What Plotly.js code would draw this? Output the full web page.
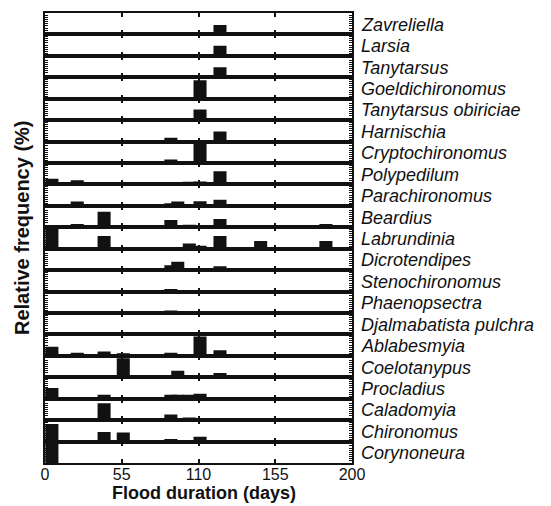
<!DOCTYPE html>
<html>
<head>
<meta charset="utf-8">
<script src="https://cdn.plot.ly/plotly-3.0.1.min.js"></script>
<style>
  html, body { margin: 0; padding: 0; background: #ffffff; }
  #chart { width: 551px; height: 506px; }
</style>
</head>
<body>
<div id="chart"></div>
<script>
// Positions of the sampled flood durations along the drawn axis
// (the axis is drawn with evenly spaced ticks labelled 0, 55, 110, 155, 200)
const samplePos = [4.5, 21, 38.5, 51, 82, 86.5, 94, 101, 114, 140.5, 183];
const tickVals = [0, 50, 100, 150, 200];
const tickText = ['0', '55', '110', '155', '200'];

const taxa = [
  'Zavreliella', 'Larsia', 'Tanytarsus', 'Goeldichironomus', 'Tanytarsus obiriciae',
  'Harnischia', 'Cryptochironomus', 'Polypedilum', 'Parachironomus', 'Beardius',
  'Labrundinia', 'Dicrotendipes', 'Stenochironomus', 'Phaenopsectra', 'Djalmabatista pulchra',
  'Ablabesmyia', 'Coelotanypus', 'Procladius', 'Caladomyia', 'Chironomus', 'Corynoneura'
];

// Relative frequency (%) at each sampled position, one array per taxon
const zavreliella         = [0, 0, 0, 0, 0, 0, 0, 0, 44, 0, 0];
const larsia              = [0, 0, 0, 0, 0, 0, 0, 0, 47, 0, 0];
const tanytarsus          = [0, 0, 0, 0, 0, 0, 0, 0, 47, 0, 0];
const goeldichironomus    = [0, 0, 0, 0, 0, 0, 0, 86, 0, 0, 0];
const tanytarsusObiriciae = [0, 0, 0, 0, 0, 0, 0, 50, 0, 0, 0];
const harnischia          = [0, 0, 0, 0, 18, 0, 0, 0, 47, 0, 0];
const cryptochironomus    = [0, 0, 0, 0, 16, 0, 0, 91, 0, 0, 0];
const polypedilum         = [27, 19, 9, 10, 9, 0, 13, 14, 62, 7, 0];
const parachironomus      = [0, 20, 0, 0, 12, 20, 9, 21, 28, 0, 0];
const beardius            = [0, 15, 72, 0, 34, 0, 12, 10, 39, 0, 15];
const labrundinia         = [100, 0, 59, 0, 0, 0, 24, 14, 59, 36, 36];
const dicrotendipes       = [0, 0, 9, 0, 23, 39, 0, 9, 18, 0, 0];
const stenochironomus     = [0, 0, 0, 0, 12, 0, 0, 0, 0, 0, 0];
const phaenopsectra       = [0, 0, 0, 0, 12, 0, 0, 0, 0, 0, 0];
const djalmabatista       = [0, 0, 0, 0, 11, 0, 0, 0, 0, 0, 0];
const ablabesmyia         = [42, 15, 20, 12, 15, 0, 9, 90, 26, 0, 0];
const coelotanypus        = [0, 0, 0, 89, 8, 31, 0, 0, 20, 0, 0];
const procladius          = [50, 0, 19, 0, 19, 19, 19, 23, 0, 0, 0];
const caladomyia          = [0, 0, 79, 0, 26, 0, 12, 0, 8, 0, 0];
const chironomus          = [82, 0, 45, 42, 12, 0, 0, 23, 0, 0, 0];
const corynoneura         = [100, 0, 0, 0, 0, 0, 0, 0, 0, 0, 0];

const rows = [
  zavreliella, larsia, tanytarsus, goeldichironomus, tanytarsusObiriciae,
  harnischia, cryptochironomus, polypedilum, parachironomus, beardius,
  labrundinia, dicrotendipes, stenochironomus, phaenopsectra, djalmabatista,
  ablabesmyia, coelotanypus, procladius, caladomyia, chironomus, corynoneura
];

const INK = '#111111';
const n = taxa.length;
const data = [];
const layout = {
  width: 551,
  height: 506,
  margin: { l: 45, r: 199, t: 13, b: 43, pad: 0 },
  paper_bgcolor: '#ffffff',
  plot_bgcolor: '#ffffff',
  showlegend: false,
  barmode: 'overlay',
  font: { family: 'Liberation Sans, Arial, sans-serif', color: INK },
  annotations: []
};

for (let i = 0; i < n; i++) {
  const suf = i === 0 ? '' : String(i + 1);
  data.push({
    type: 'bar',
    x: samplePos,
    y: rows[i],
    xaxis: 'x' + suf,
    yaxis: 'y' + suf,
    width: 8.5,
    marker: { color: INK, line: { width: 0 } },
    name: taxa[i],
    hovertemplate: taxa[i] + ': %{y}%<extra></extra>'
  });
  layout['xaxis' + suf] = {
    domain: [0, 1],
    range: [0, 200],
    anchor: 'y' + suf,
    tickmode: 'array',
    tickvals: tickVals,
    ticktext: tickText,
    ticks: 'inside',
    ticklen: 4,
    tickwidth: 2,
    tickcolor: INK,
    showline: true,
    linewidth: 2,
    linecolor: INK,
    mirror: 'ticks',
    showgrid: false,
    zeroline: false,
    showticklabels: i === n - 1,
    ticklabelstandoff: -4,
    tickfont: { family: 'Liberation Sans, Arial, sans-serif', size: 16, color: INK },
    fixedrange: true
  };
  layout['yaxis' + suf] = {
    domain: [1 - (i + 1) / n, 1 - i / n],
    range: [0, 100],
    anchor: 'x' + suf,
    tick0: 0,
    dtick: 10,
    ticks: 'inside',
    ticklen: 3,
    tickwidth: 1,
    tickcolor: INK,
    showline: true,
    linewidth: 2,
    linecolor: INK,
    mirror: 'ticks',
    showgrid: false,
    zeroline: false,
    showticklabels: false,
    fixedrange: true
  };
  layout.annotations.push({
    xref: 'paper', yref: 'paper',
    x: 1, y: 1 - (i + 0.5) / n,
    xanchor: 'left', yanchor: 'middle',
    xshift: 7, yshift: -1,
    showarrow: false,
    text: taxa[i],
    font: { family: 'Liberation Sans, Arial, sans-serif', size: 18, color: INK, style: 'italic' }
  });
}

layout.annotations.push({
  xref: 'paper', yref: 'paper',
  x: 0, y: 0.5, xshift: -23, yshift: 10,
  xanchor: 'center', yanchor: 'middle',
  textangle: -90,
  showarrow: false,
  text: '<b>Relative frequency (%)</b>',
  font: { family: 'Liberation Sans, Arial, sans-serif', size: 20, color: INK }
});
layout.annotations.push({
  xref: 'paper', yref: 'paper',
  x: 0.5, y: 0, xshift: 5, yshift: -42,
  xanchor: 'center', yanchor: 'bottom',
  showarrow: false,
  text: '<b>Flood duration (days)</b>',
  font: { family: 'Liberation Sans, Arial, sans-serif', size: 18, color: INK }
});

Plotly.newPlot('chart', data, layout, { staticPlot: true, displayModeBar: false });
</script>
</body>
</html>
